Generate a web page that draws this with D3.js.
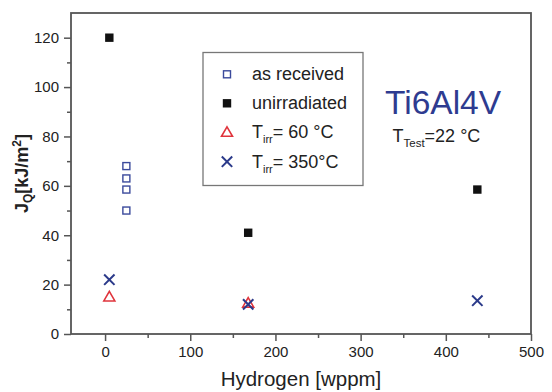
<!DOCTYPE html>
<html><head><meta charset="utf-8">
<script src="https://cdn.jsdelivr.net/npm/d3@7"></script>
<style>body{margin:0;background:#fff}svg{display:block;font-family:"Liberation Sans",Arial,sans-serif}</style>
</head><body>
<svg id="c" width="552" height="392"></svg>
<script>
// Data
const asReceivedH = [25, 25, 25, 25];
const asReceivedJ = [68, 63, 58.5, 50];
const unirradH = [5, 168, 437];
const unirradJ = [120, 41, 58.5];
const t60H = [5, 168];
const t60J = [15, 12.5];
const t350H = [5, 168, 437];
const t350J = [22, 12, 13.5];
const xMajor = [0, 100, 200, 300, 400, 500];
const xMinor = [50, 150, 250, 350, 450];
const yMajor = [0, 20, 40, 60, 80, 100, 120];
const yMinor = [10, 30, 50, 70, 90, 110];

const svg = d3.select("#c");
const L = 71, R = 531, T = 13, B = 334;
const x = d3.scaleLinear([-40, 500], [L, R]);
const y = d3.scaleLinear([0, 130], [B, T]);
const axisCol = "#555";

function styleAxis(g) {
  g.select(".domain").remove();
  g.selectAll(".tick line").attr("stroke", axisCol).attr("stroke-width", 1.5);
  g.selectAll(".tick text").attr("fill", "#222").style("font-size", "15px").style("font-family", '"Liberation Sans",Arial,sans-serif');
}
svg.append("g").attr("transform", `translate(0,${B})`)
  .call(d3.axisBottom(x).tickValues(xMajor).tickSize(7).tickPadding(5).tickFormat(d3.format("d"))).call(styleAxis);
svg.append("g").attr("transform", `translate(0,${B})`)
  .call(d3.axisBottom(x).tickValues(xMinor).tickSize(4).tickFormat("")).call(styleAxis);
svg.append("g").attr("transform", `translate(${L},0)`)
  .call(d3.axisLeft(y).tickValues(yMajor).tickSize(7).tickPadding(5).tickFormat(d3.format("d"))).call(styleAxis);
svg.append("g").attr("transform", `translate(${L},0)`)
  .call(d3.axisLeft(y).tickValues(yMinor).tickSize(4).tickFormat("")).call(styleAxis);

// frame
svg.append("rect").attr("x", L).attr("y", T).attr("width", R - L).attr("height", B - T)
  .attr("fill", "none").attr("stroke", axisCol).attr("stroke-width", 1.8);

const blue = "#3b4a9c", navy = "#2b3a8a", red = "#e0343c";
function openSq(g, cx, cy) {
  g.append("rect").attr("x", cx - 3.5).attr("y", cy - 3.5).attr("width", 7).attr("height", 7)
    .attr("fill", "none").attr("stroke", blue).attr("stroke-width", 1.4);
}
function fillSq(g, cx, cy) {
  g.append("rect").attr("x", cx - 4.2).attr("y", cy - 4.2).attr("width", 8.4).attr("height", 8.4).attr("fill", "#111");
}
function tri(g, cx, cy) {
  g.append("path").attr("d", `M${cx},${cy - 5.5}L${cx + 5.5},${cy + 4}L${cx - 5.5},${cy + 4}Z`)
    .attr("fill", "none").attr("stroke", red).attr("stroke-width", 1.6);
}
function cross(g, cx, cy) {
  const s = 5.2;
  g.append("path").attr("d", `M${cx - s},${cy - s}L${cx + s},${cy + s}M${cx - s},${cy + s}L${cx + s},${cy - s}`)
    .attr("stroke", navy).attr("stroke-width", 2);
}
const pts = svg.append("g");
asReceivedH.forEach((h, i) => openSq(pts, x(h), y(asReceivedJ[i])));
unirradH.forEach((h, i) => fillSq(pts, x(h), y(unirradJ[i])));
t60H.forEach((h, i) => tri(pts, x(h), y(t60J[i])));
t350H.forEach((h, i) => cross(pts, x(h), y(t350J[i])));

// legend
const lg = svg.append("g");
lg.append("rect").attr("x", 203).attr("y", 52.5).attr("width", 160).attr("height", 133)
  .attr("fill", "#fff").attr("stroke", "#777").attr("stroke-width", 1.3);
const rows = [74.3, 103.3, 132.3, 161.7];
const sx = 227, tx = 252;
openSq(lg, sx, rows[0]); fillSq(lg, sx, rows[1]); tri(lg, sx, rows[2]); cross(lg, sx, rows[3]);
const fs = "18px";
lg.append("text").attr("x", tx).attr("y", rows[0] + 6).style("font-size", fs).attr("fill", "#222").text("as received");
lg.append("text").attr("x", tx).attr("y", rows[1] + 6).style("font-size", fs).attr("fill", "#222").text("unirradiated");
function tirr(yy, rest) {
  const t = lg.append("text").attr("x", tx).attr("y", yy + 6).style("font-size", fs).attr("fill", "#222");
  t.append("tspan").text("T");
  t.append("tspan").attr("dy", 5).style("font-size", "11px").text("irr");
  t.append("tspan").attr("dy", -5).text(rest);
}
tirr(rows[2], "= 60 °C");
tirr(rows[3], "= 350°C");

// annotations
svg.append("text").attr("x", 385).attr("y", 113.5).style("font-size", "33.5px").attr("fill", "#2e3b90").text("Ti6Al4V");
const tt = svg.append("text").attr("x", 392.5).attr("y", 141.5).style("font-size", "18px").attr("fill", "#222");
tt.append("tspan").text("T");
tt.append("tspan").attr("dy", 5).style("font-size", "11.5px").text("Test");
tt.append("tspan").attr("dy", -5).text("=22 °C");

// axis titles
svg.append("text").attr("x", (L + R) / 2).attr("y", 386).attr("text-anchor", "middle")
  .style("font-size", "20.5px").attr("fill", "#222").text("Hydrogen [wppm]");
const yl = svg.append("text").attr("transform", `translate(28,${(T + B) / 2}) rotate(-90)`)
  .attr("text-anchor", "middle").style("font-size", "18px").style("font-weight", "bold").attr("fill", "#222");
yl.append("tspan").text("J");
yl.append("tspan").attr("dy", 4).style("font-size", "12px").text("Q");
yl.append("tspan").attr("dy", -4).text("[kJ/m");
yl.append("tspan").attr("dy", -7).style("font-size", "12px").text("2");
yl.append("tspan").attr("dy", 7).text("]");
</script>
</body></html>
